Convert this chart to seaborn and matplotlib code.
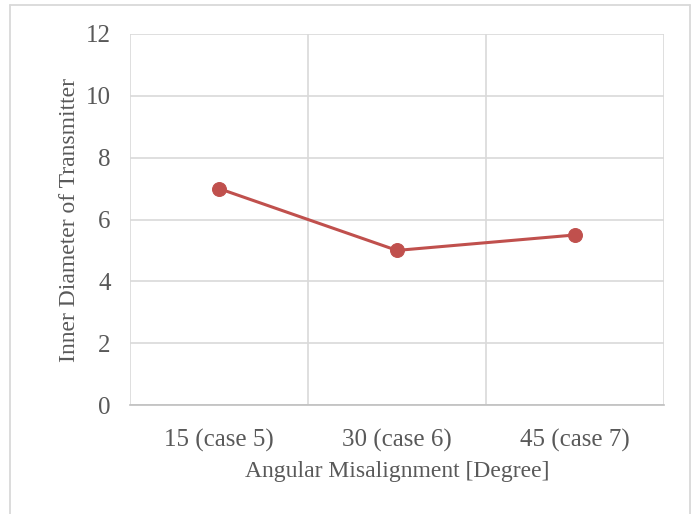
import matplotlib
matplotlib.use("Agg")
import matplotlib.pyplot as plt
from matplotlib.lines import Line2D
from matplotlib.ticker import FixedLocator
import seaborn as sns
import pandas as pd

# Data
categories = ["15 (case 5)", "30 (case 6)", "45 (case 7)"]
diameters = [7, 5, 5.5]
y_ticks = [0, 2, 4, 6, 8, 10, 12]

sns.set_style("white")
plt.rcParams["font.family"] = ["Liberation Serif", "DejaVu Serif"]

df = pd.DataFrame({"angle": categories, "diameter": diameters})

fig = plt.figure(figsize=(6.99, 5.14), dpi=100)
ax = fig.add_axes([130 / 699, 1 - 405 / 514, 534 / 699, 371 / 514])

sns.lineplot(data=df, x="angle", y="diameter", ax=ax, color="#C0504D",
             linewidth=2.2, marker="o", markersize=10,
             markeredgecolor="#C0504D", markerfacecolor="#C0504D",
             sort=False, zorder=3)

ax.set_xlim(-0.5, len(categories) - 0.5)
ax.set_ylim(0, 12)
ax.set_yticks(y_ticks)
ax.set_yticklabels([str(v) for v in y_ticks])

# Vertical gridlines at category boundaries
ax.xaxis.set_minor_locator(FixedLocator([i - 0.5 for i in range(len(categories) + 1)]))
ax.grid(True, which="minor", axis="x", color="#D9D9D9", linewidth=1.2)
ax.grid(True, which="major", axis="y", color="#D9D9D9", linewidth=1.2)
ax.grid(False, which="major", axis="x")
ax.set_axisbelow(True)

for side in ["top", "right", "left"]:
    ax.spines[side].set_visible(False)
ax.spines["bottom"].set_color("#BFBFBF")
ax.spines["bottom"].set_linewidth(1.2)

ax.tick_params(axis="both", which="both", length=0, labelsize=18,
               labelcolor="#595959")
ax.tick_params(axis="x", pad=17)
ax.tick_params(axis="y", pad=14)

ax.set_xlabel("Angular Misalignment [Degree]", fontsize=17, color="#595959",
              labelpad=7)
ax.set_ylabel("Inner Diameter of Transmitter", fontsize=17, color="#595959",
              labelpad=4)

# Chart frame
frame_kw = dict(color="#D9D9D9", linewidth=1.3, transform=fig.transFigure)
x0, x1 = 10 / 699, 690 / 699
yt = 1 - 5 / 514
fig.add_artist(Line2D([x0, x0], [0, yt], **frame_kw))
fig.add_artist(Line2D([x1, x1], [0, yt], **frame_kw))
fig.add_artist(Line2D([x0, x1], [yt, yt], **frame_kw))

fig.savefig("out.png", dpi=100)
